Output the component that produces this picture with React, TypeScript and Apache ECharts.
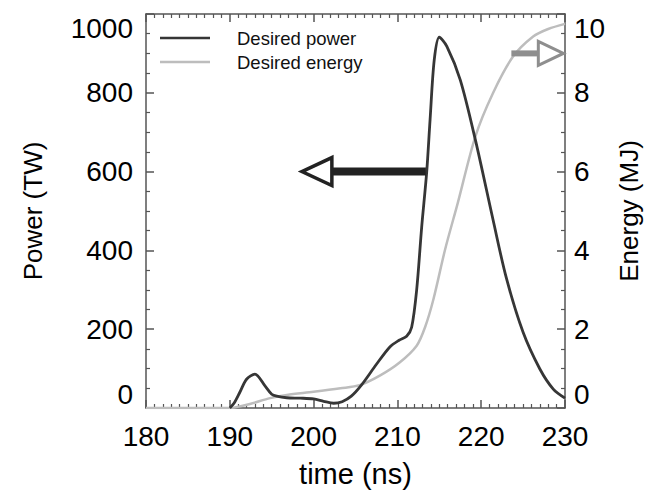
import React, { useEffect, useRef } from "react";
import * as echarts from "echarts";

// ---- data ----
const powerTime = [190, 190.5, 191.2, 192.0, 193.0, 194.2, 195.0, 195.6, 196.8, 198.4, 200.0, 201.2, 202.4, 203.4, 204.5, 205.7, 207.5, 209.1, 210.2, 211.1, 211.7, 212.3, 212.9, 213.5, 213.9, 214.4, 215.0, 215.9, 217.5, 219.3, 221.4, 223.0, 225.0, 227.0, 228.6, 230.0];
const powerValues = [0, 12, 40, 73, 86, 56, 35, 30, 26, 25, 23, 17, 12, 16, 30, 58, 111, 155, 172, 182, 205, 300, 460, 600, 732, 884, 941, 918, 833, 681, 479, 330, 192, 99, 48, 25];

const energyTime = [180, 190, 190.5, 192.4, 194.8, 196.8, 200.0, 203.2, 205.5, 207.9, 210.3, 212.3, 213.3, 214.3, 215.7, 217.2, 219.3, 221.4, 223.8, 226.2, 228.0, 230.0];
const energyValues = [0, 0, 0.01, 0.1, 0.25, 0.33, 0.41, 0.5, 0.58, 0.82, 1.16, 1.58, 2.05, 2.76, 4.03, 5.2, 6.89, 7.99, 8.92, 9.43, 9.62, 9.75];

const xTicks = [180, 190, 200, 210, 220, 230];
const powerTicks = [0, 200, 400, 600, 800, 1000];
const energyTicks = [0, 2, 4, 6, 8, 10];

const seriesNames = ["Desired power", "Desired energy"];

// arrow annotations (data coordinates): [fromTime, toTime, level]
const powerArrow = [213.4, 198.6, 600];
const energyArrow = [223.6, 229.8, 9.0];

const FONT = '"Liberation Sans", Arial, Helvetica, sans-serif';
const AXIS_COLOR = "#555";
const POWER_COLOR = "#363636";
const ENERGY_COLOR = "#bdbdbd";

const zip = (a: number[], b: number[]) => a.map((v, i) => [v, b[i]]);

export default function App() {
  const ref = useRef<HTMLDivElement>(null);

  useEffect(() => {
    if (!ref.current) return;
    const chart = echarts.init(ref.current, undefined, { renderer: "svg" });

    const commonAxisLine = { show: true, onZero: false, lineStyle: { color: AXIS_COLOR, width: 1.5 } };
    const commonTick = { show: true, inside: true, length: 8, lineStyle: { color: AXIS_COLOR, width: 1.5 } };
    const labelStyle = { fontSize: 28, color: "#000", fontFamily: FONT, formatter: (v: number) => String(v) };
    const nameStyle = { fontSize: 26, color: "#000", fontFamily: FONT };

    chart.setOption({
      animation: false,
      backgroundColor: "#fff",
      grid: { left: 146, right: 90, top: 14, bottom: 84, containLabel: false },
      xAxis: [
        {
          type: "value",
          min: xTicks[0],
          max: xTicks[xTicks.length - 1],
          interval: 10,
          position: "bottom",
          name: "time (ns)",
          nameLocation: "middle",
          nameGap: 51,
          nameTextStyle: { ...nameStyle, fontSize: 29 },
          axisLine: commonAxisLine,
          axisTick: commonTick,
          minorTick: { show: true, splitNumber: 10, length: 4, lineStyle: { color: AXIS_COLOR, width: 1.2 } },
          axisLabel: { ...labelStyle, margin: 14 },
          splitLine: { show: false },
        },
        {
          type: "value",
          min: xTicks[0],
          max: xTicks[xTicks.length - 1],
          interval: 10,
          position: "top",
          axisLine: commonAxisLine,
          axisTick: commonTick,
          minorTick: { show: true, splitNumber: 10, length: 4, lineStyle: { color: AXIS_COLOR, width: 1.2 } },
          axisLabel: { show: false },
          splitLine: { show: false },
        },
      ],
      yAxis: [
        {
          type: "value",
          min: powerTicks[0],
          max: powerTicks[powerTicks.length - 1],
          interval: 200,
          position: "left",
          name: "Power (TW)",
          nameLocation: "middle",
          nameRotate: 90,
          nameGap: 100,
          nameTextStyle: nameStyle,
          axisLine: commonAxisLine,
          axisTick: commonTick,
          minorTick: { show: true, splitNumber: 4, length: 4, lineStyle: { color: AXIS_COLOR, width: 1.2 } },
          axisLabel: { ...labelStyle, margin: 13, verticalAlignMinLabel: "bottom", verticalAlignMaxLabel: "top" },
          splitLine: { show: false },
        },
        {
          type: "value",
          min: energyTicks[0],
          max: energyTicks[energyTicks.length - 1],
          interval: 2,
          position: "right",
          name: "Energy (MJ)",
          nameLocation: "middle",
          nameRotate: 90,
          nameGap: 47,
          nameTextStyle: nameStyle,
          axisLine: commonAxisLine,
          axisTick: commonTick,
          minorTick: { show: true, splitNumber: 4, length: 4, lineStyle: { color: AXIS_COLOR, width: 1.2 } },
          axisLabel: { ...labelStyle, margin: 9, verticalAlignMinLabel: "bottom", verticalAlignMaxLabel: "top" },
          splitLine: { show: false },
        },
      ],
      series: [
        {
          name: seriesNames[1],
          type: "line",
          xAxisIndex: 0,
          yAxisIndex: 1,
          data: zip(energyTime, energyValues),
          showSymbol: false,
          symbol: "none",
          smooth: 0.3,
          lineStyle: { color: ENERGY_COLOR, width: 2.5 },
          z: 2,
        },
        {
          name: seriesNames[0],
          type: "line",
          xAxisIndex: 0,
          yAxisIndex: 0,
          data: zip(powerTime, powerValues),
          showSymbol: false,
          symbol: "none",
          smooth: 0.3,
          lineStyle: { color: POWER_COLOR, width: 2.8 },
          z: 3,
        },
      ],
    });

    // Build annotations from axis scales
    const p1a = chart.convertToPixel({ xAxisIndex: 0, yAxisIndex: 0 }, [powerArrow[0], powerArrow[2]]) as number[];
    const p1b = chart.convertToPixel({ xAxisIndex: 0, yAxisIndex: 0 }, [powerArrow[1], powerArrow[2]]) as number[];
    const p2a = chart.convertToPixel({ xAxisIndex: 0, yAxisIndex: 1 }, [energyArrow[0], energyArrow[2]]) as number[];
    const p2b = chart.convertToPixel({ xAxisIndex: 0, yAxisIndex: 1 }, [energyArrow[1], energyArrow[2]]) as number[];

    const head1 = 30, half1 = 14;
    const head2 = 25, half2 = 12;
    const base1 = p1b[0] + head1;
    const base2 = p2b[0] - head2;

    chart.setOption({
      graphic: [
        // legend
        { type: "line", shape: { x1: 160, y1: 38, x2: 210, y2: 38 }, style: { stroke: POWER_COLOR, lineWidth: 2.5 } },
        { type: "text", x: 237, y: 38, style: { text: seriesNames[0], fontSize: 18.5, fontFamily: FONT, fill: "#111", verticalAlign: "middle" } },
        { type: "line", shape: { x1: 160, y1: 62, x2: 210, y2: 62 }, style: { stroke: ENERGY_COLOR, lineWidth: 2.5 } },
        { type: "text", x: 237, y: 62, style: { text: seriesNames[1], fontSize: 18.5, fontFamily: FONT, fill: "#111", verticalAlign: "middle" } },
        // power arrow (pointing left)
        { type: "line", shape: { x1: p1a[0], y1: p1a[1], x2: base1 - 1, y2: p1a[1] }, style: { stroke: "#222", lineWidth: 8 }, z: 10 },
        {
          type: "polygon",
          shape: { points: [[p1b[0], p1b[1]], [base1, p1b[1] - half1], [base1, p1b[1] + half1]] },
          style: { fill: "#fff", stroke: "#222", lineWidth: 3.5, lineJoin: "miter" },
          z: 10,
        },
        // energy arrow (pointing right)
        { type: "line", shape: { x1: p2a[0], y1: p2a[1], x2: base2 + 1, y2: p2a[1] }, style: { stroke: "#8e8e8e", lineWidth: 6 }, z: 10 },
        {
          type: "polygon",
          shape: { points: [[p2b[0], p2b[1]], [base2, p2b[1] - half2], [base2, p2b[1] + half2]] },
          style: { fill: "#fff", stroke: "#8e8e8e", lineWidth: 3, lineJoin: "miter" },
          z: 10,
        },
      ],
    });

    return () => chart.dispose();
  }, []);

  return (
    <div
      ref={ref}
      style={{ position: "fixed", left: 0, top: 0, width: 655, height: 493, background: "#fff" }}
    />
  );
}
